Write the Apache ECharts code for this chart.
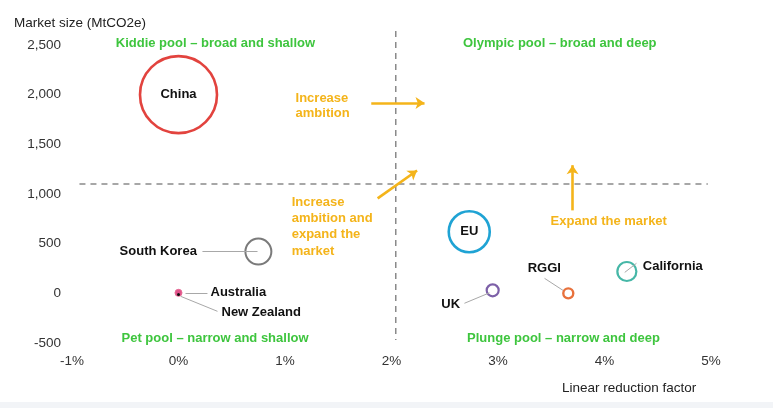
<!DOCTYPE html>
<html><head><meta charset="utf-8">
<script src="https://cdn.jsdelivr.net/npm/echarts@6/dist/echarts.min.js"></script>
<style>html,body{margin:0;padding:0;background:#fff}#c{width:773px;height:408px}</style>
</head><body><div id="c"></div>
<script>
// ---- data ----
const markets = ['China', 'South Korea', 'Australia', 'New Zealand', 'EU', 'UK', 'RGGI', 'California'];
const reductionFactor = [0.0, 0.75, 0.0, 0.0, 2.73, 2.95, 3.66, 4.21];   // %
const marketSize = [2000, 420, 5, -12, 620, 30, 0, 220];                  // MtCO2e
const xTicks = [-1, 0, 1, 2, 3, 4, 5];
const yTicks = [-500, 0, 500, 1000, 1500, 2000, 2500];
const quadrantDividerX = 2.04;
const quadrantDividerY = 1100;
const quadrantTitles = ['Kiddie pool – broad and shallow', 'Olympic pool – broad and deep',
                        'Pet pool – narrow and shallow', 'Plunge pool – narrow and deep'];
const arrowTexts = ['Increase\nambition', 'Increase\nambition and\nexpand the\nmarket', 'Expand the market'];

// ---- styles ----
const bubbleStyle = {
  'China':       { size: 77, stroke: '#e2433e', width: 2.6, fill: 'rgba(255,255,255,0)', label: { position: 'inside' } },
  'South Korea': { size: 26, stroke: '#7a7a7a', width: 2,   fill: 'rgba(255,255,255,0)', label: { position: 'inside', align: 'right', offset: [-61.5, 0] } },
  'Australia':   { size: 7,  stroke: '#e66a95', width: 1,   fill: '#e0538a', label: { position: 'inside', align: 'left', offset: [32, 0] } },
  'New Zealand': { size: 3,  stroke: '#111',    width: 0,   fill: '#111',    label: { position: 'inside', align: 'left', offset: [43, 18] } },
  'EU':          { size: 41, stroke: '#1fa3d4', width: 2.6, fill: 'rgba(255,255,255,0)', label: { position: 'inside' } },
  'UK':          { size: 12, stroke: '#7d60a8', width: 2.2, fill: 'rgba(255,255,255,0)', label: { position: 'inside', offset: [-42, 14] } },
  'RGGI':        { size: 10, stroke: '#e8713c', width: 2.4, fill: 'rgba(255,255,255,0)', label: { position: 'inside', offset: [-24, -25] } },
  'California':  { size: 19, stroke: '#46b7a7', width: 2.2, fill: 'rgba(255,255,255,0)', label: { position: 'inside', align: 'left', offset: [16, -5] } }
};
const GREEN = '#3ec53e', ORANGE = '#f4b41a', DASH = '#8a8a8a', LEADER = '#a8a8a8';
const FONT = '"Liberation Sans", Arial, sans-serif';

const bubbleData = markets.map((m, i) => {
  const s = bubbleStyle[m];
  return {
    name: m,
    value: [reductionFactor[i], marketSize[i]],
    symbolSize: s.size,
    itemStyle: { color: s.fill, borderColor: s.stroke, borderWidth: s.width, opacity: 1 },
    label: Object.assign({ show: true, formatter: '{b}', color: '#111', fontWeight: 'bold', fontSize: 13, fontFamily: FONT }, s.label)
  };
});

// leader lines: [from point, to label], data coords
const leaderLines = [
  [[0.225, 422], [0.742, 422]],
  [[0.066, 5], [0.272, 5]],
  [[0.02, -30], [0.366, -181]],
  [[2.685, -100], [2.92, 5]],
  [[3.437, 151], [3.61, 30]],
  [[4.19, 211], [4.30, 302]]
];
const arrows = [
  [[1.81, 1915], [2.31, 1915]],
  [[1.87, 956], [2.24, 1237]],
  [[3.70, 835], [3.70, 1290]]
];

const markLineData = [];
markLineData.push([{ coord: [-0.93, quadrantDividerY], symbol: 'none', lineStyle: { color: DASH, width: 1.5, type: [6, 5] } },
                   { coord: [4.97, quadrantDividerY], symbol: 'none' }]);
leaderLines.forEach(l => markLineData.push([
  { coord: l[0], symbol: 'none', lineStyle: { color: LEADER, width: 1, type: 'solid' } },
  { coord: l[1], symbol: 'none' }]));
arrows.forEach(a => markLineData.push([
  { coord: a[0], symbol: 'none', lineStyle: { color: ORANGE, width: 2.6, type: 'solid' } },
  { coord: a[1], symbol: 'arrow', symbolSize: [9, 9] }]));

const textLabel = (txt, x, y, color, align, lh) => ({
  value: [x, y], symbolSize: 0,
  label: { show: true, position: 'inside', formatter: txt, color: color, fontWeight: 'bold', fontSize: 13,
           fontFamily: FONT, align: align, lineHeight: lh || 16 }
});
const annotationData = [
  textLabel(quadrantTitles[0], 0.347, 2518, GREEN, 'center'),
  textLabel(quadrantTitles[1], 3.58, 2518, GREEN, 'center'),
  textLabel(quadrantTitles[2], 0.343, -453, GREEN, 'center'),
  textLabel(quadrantTitles[3], 3.615, -453, GREEN, 'center'),
  textLabel(arrowTexts[0], 1.099, 1886, ORANGE, 'left', 15.6),
  textLabel(arrowTexts[1], 1.063, 672, ORANGE, 'left', 16.3),
  textLabel(arrowTexts[2], 4.04, 724, ORANGE, 'center')
];

const chart = echarts.init(document.getElementById('c'), null, { renderer: 'canvas' });
chart.setOption({
  animation: false,
  backgroundColor: '#ffffff',
  grid: { left: 72, right: 62, top: 45, bottom: 65, containLabel: false },
  xAxis: {
    type: 'value', min: xTicks[0], max: xTicks[xTicks.length - 1], interval: 1,
    axisLine: { show: false }, axisTick: { show: false }, splitLine: { show: false },
    axisLabel: { formatter: v => v + '%', color: '#333', fontSize: 13.5, fontFamily: FONT, margin: 11 }
  },
  yAxis: {
    type: 'value', min: yTicks[0], max: yTicks[yTicks.length - 1], interval: 500,
    axisLine: { show: false }, axisTick: { show: false }, splitLine: { show: false },
    axisLabel: { formatter: v => v.toLocaleString('en-US'), color: '#333', fontSize: 13.5, fontFamily: FONT, margin: 11 }
  },
  graphic: [
    { type: 'rect', left: 0, top: 402, shape: { width: 773, height: 6 }, style: { fill: '#f2f4f7' }, silent: true },
    { type: 'text', left: 14, top: 16, style: { text: 'Market size (MtCO2e)', fill: '#222', font: '13.5px ' + FONT } },
    { type: 'text', left: 562, top: 381, style: { text: 'Linear reduction factor', fill: '#222', font: '13.5px ' + FONT } }
  ],
  series: [
    {
      type: 'line', name: 'vertical divider', silent: true, clip: false, z: 1, symbol: 'none',
      data: [[quadrantDividerX, 2640], [quadrantDividerX, -470]],
      lineStyle: { color: DASH, width: 1.5, type: [6, 5] }
    },
    {
      type: 'scatter', name: 'annotations', silent: true, clip: false, z: 2,
      itemStyle: { opacity: 1 },
      data: annotationData,
      markLine: { silent: true, animation: false, symbol: ['none', 'none'], label: { show: false },
                  emphasis: { disabled: true }, data: markLineData }
    },
    {
      type: 'scatter', name: 'markets', clip: false, z: 3,
      itemStyle: { opacity: 1 },
      data: bubbleData
    }
  ]
});
</script>
</body></html>
